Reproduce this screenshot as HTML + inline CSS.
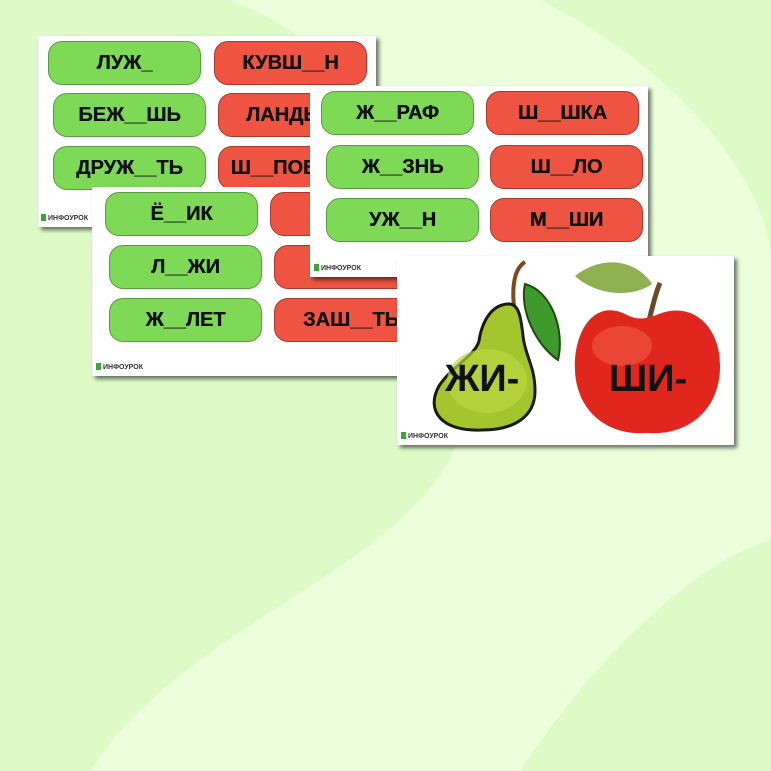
<!DOCTYPE html><html><head><meta charset="utf-8"><style>
body{margin:0;width:771px;height:771px;overflow:hidden;position:relative;background:#dcfbc6;font-family:"Liberation Sans","DejaVu Sans",sans-serif}
.card{position:absolute;background:#fff;box-shadow:3px 3px 4px rgba(0,0,0,.55);overflow:hidden}
.p{position:absolute;width:153px;height:44px;border-radius:14px;display:flex;align-items:center;justify-content:center;font-weight:bold;font-size:20px;color:#111;box-sizing:border-box;text-shadow:0.4px 0 0 #111}
.g{background:#7ed957;border:1px solid #5a9a40}.r{background:#ee5441;border:1px solid #a8392c}
.logo{position:absolute;font-size:7px;font-weight:bold;color:#333}
.logo:before{content:"";display:inline-block;width:5px;height:7px;background:#3aa635;margin-right:2px;vertical-align:-1px}
.big{position:absolute;font-weight:bold;font-size:38px;color:#111}
</style></head><body>
<svg style="position:absolute;left:0;top:0" width="771" height="771">
<path d="M230 0 C380 60 470 200 470 380 C470 560 200 600 90 771 L771 771 L771 0 Z" fill="#ebffdc"/>
<path d="M540 0 C700 80 771 200 771 260 L771 0 Z" fill="#dcfbc6"/>
<path d="M520 771 C600 650 700 560 771 540 L771 771 Z" fill="#dcfbc6"/>
</svg>
<div class="card" style="left:38px;top:36px;width:338px;height:191px">
<div class="p g" style="left:10px;top:5px">ЛУЖ_</div><div class="p r" style="left:176px;top:5px">КУВШ__Н</div>
<div class="p g" style="left:15px;top:57px">БЕЖ__ШЬ</div><div class="p r" style="left:180px;top:57px">ЛАНДЫШ</div>
<div class="p g" style="left:15px;top:110px">ДРУЖ__ТЬ</div><div class="p r" style="left:180px;top:110px">Ш__ПОВНИК</div>
<div class="logo" style="left:3px;top:178px">ИНФОУРОК</div></div>
<div class="card" style="left:92px;top:187px;width:338px;height:189px">
<div class="p g" style="left:13px;top:5px">Ё__ИК</div><div class="p r" style="left:178px;top:5px">&nbsp;</div>
<div class="p g" style="left:17px;top:58px">Л__ЖИ</div><div class="p r" style="left:182px;top:58px">&nbsp;М</div>
<div class="p g" style="left:17px;top:111px">Ж__ЛЕТ</div><div class="p r" style="left:182px;top:111px;justify-content:flex-start;padding-left:28px">ЗАШ__ТЬ</div>
<div class="logo" style="left:4px;top:176px">ИНФОУРОК</div></div>
<div class="card" style="left:310px;top:86px;width:338px;height:191px">
<div class="p g" style="left:11px;top:5px">Ж__РАФ</div><div class="p r" style="left:176px;top:5px">Ш__ШКА</div>
<div class="p g" style="left:16px;top:59px">Ж__ЗНЬ</div><div class="p r" style="left:180px;top:59px">Ш__ЛО</div>
<div class="p g" style="left:16px;top:112px">УЖ__Н</div><div class="p r" style="left:180px;top:112px">М__ШИ</div>
<div class="logo" style="left:4px;top:178px">ИНФОУРОК</div></div>
<div class="card" style="left:397px;top:256px;width:337px;height:189px">
<svg width="337" height="189" style="position:absolute;left:0;top:0">
<path d="M120 70 C112 30 118 12 128 6" stroke="#7a4a20" stroke-width="4" fill="none"/>
<path d="M128 28 C155 35 168 75 161 104 C140 90 122 55 128 28Z" fill="#3f9a2c" stroke="#1d4a10" stroke-width="2"/>
<path d="M112 48 C95 48 85 65 82 85 C78 100 55 110 42 130 C28 155 45 176 85 174 C118 174 138 160 138 135 C138 110 128 100 126 80 C124 62 122 48 112 48Z" fill="#a3c62e" stroke="#1a1a0a" stroke-width="3"/>
<ellipse cx="90" cy="125" rx="40" ry="32" fill="#b8d640" opacity=".7"/>
<path d="M178 20 C205 -2 240 4 255 28 C235 42 200 40 178 20Z" fill="#8fb050"/>
<path d="M250 72 C256 50 258 38 263 27" stroke="#6b4a2a" stroke-width="5" fill="none"/>
<path d="M232 60 C198 40 176 75 178 115 C180 155 210 180 250 177 C290 180 322 155 323 112 C324 70 295 45 262 58 C250 63 242 64 232 60Z" fill="#e0261d"/>
<ellipse cx="225" cy="90" rx="30" ry="20" fill="#ef5a45" opacity=".6"/>
</svg>
<div class="big" style="left:48px;top:102px">ЖИ-</div>
<div class="big" style="left:212px;top:102px">ШИ-</div>
<div class="logo" style="left:4px;top:176px">ИНФОУРОК</div></div>
</body></html>
